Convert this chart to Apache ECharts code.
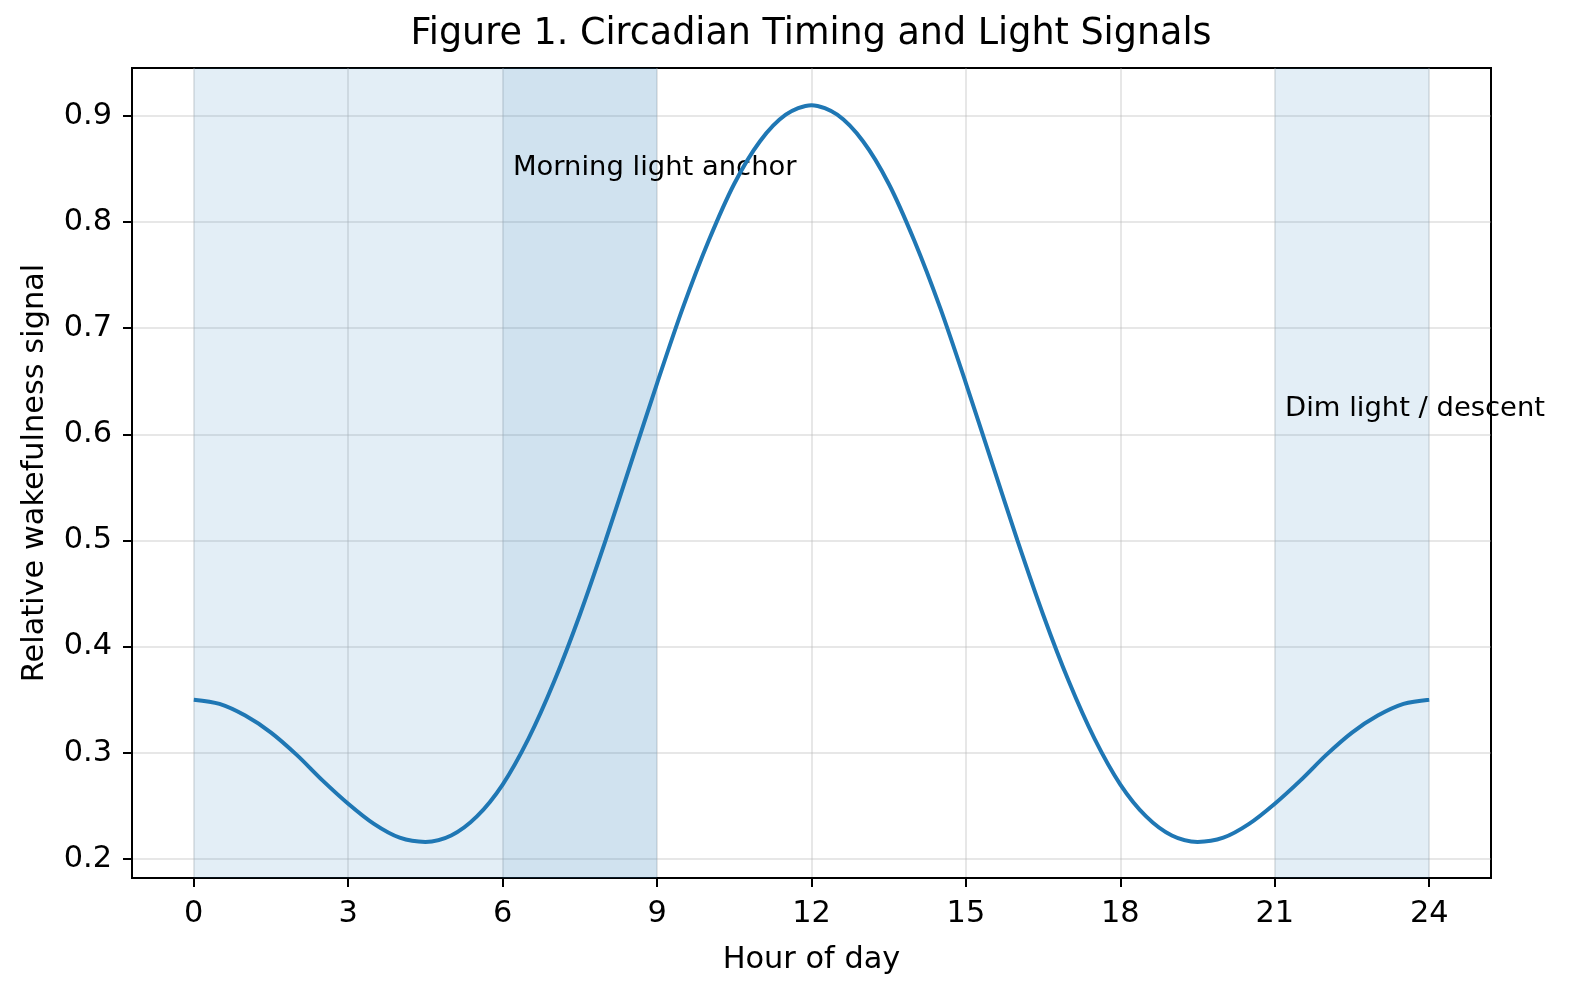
<html>
<head>
<meta charset="UTF-8">
<title>Figure 1. Circadian Timing and Light Signals</title>
<script src="https://cdn.jsdelivr.net/npm/echarts@6/dist/echarts.min.js"></script>
<style>
    body{ margin:0; background:#fff; }
    #main{ width:1574px; height:996px; }
</style>
</head>
<body>
<div id="main"></div>
<script>
// data
var hours = [0, 0.5, 1, 1.5, 2, 2.5, 3, 3.5, 4, 4.5, 5, 5.5, 6, 6.5, 7, 7.5, 8, 8.5,
    9, 9.5, 10, 10.5, 11, 11.5, 12, 12.5, 13, 13.5, 14, 14.5, 15, 15.5, 16, 16.5,
    17, 17.5, 18, 18.5, 19, 19.5, 20, 20.5, 21, 21.5, 22, 22.5, 23, 23.5, 24];
var wakefulness = [0.350, 0.346, 0.335, 0.319, 0.298, 0.274, 0.252, 0.233, 0.220, 0.216,
    0.222, 0.240, 0.270, 0.313, 0.367, 0.430, 0.500, 0.574, 0.648, 0.719, 0.782, 0.836,
    0.876, 0.901, 0.910, 0.901, 0.876, 0.836, 0.782, 0.719, 0.648, 0.574, 0.500, 0.430,
    0.367, 0.313, 0.270, 0.240, 0.222, 0.216, 0.220, 0.233, 0.252, 0.274, 0.298, 0.319,
    0.335, 0.346, 0.350];
var bandStart = [0, 6, 21];
var bandEnd = [6, 9, 24];
var noteText = ['Morning light anchor', 'Dim light / descent'];
var noteHour = [6.2, 21.2];
var noteValue = [0.845, 0.618];
var xTicks = [0, 3, 6, 9, 12, 15, 18, 21, 24];
var yTicks = [0.2, 0.3, 0.4, 0.5, 0.6, 0.7, 0.8, 0.9];

var font = 'DejaVu Sans';
var bandColors = ['rgba(31,119,180,0.125)', 'rgba(31,119,180,0.21)', 'rgba(31,119,180,0.125)'];

var lineData = hours.map(function (h, i) { return [h, wakefulness[i]]; });
var noteData = noteText.map(function (t, i) { return { value: [noteHour[i], noteValue[i]], name: t }; });
var bands = bandStart.map(function (s, i) {
    return [{ xAxis: s, itemStyle: { color: bandColors[i] } }, { xAxis: bandEnd[i] }];
});

var myChart = echarts.init(document.getElementById('main'));

var option = {
    animation: false,
    title: {
        text: 'Figure 1. Circadian Timing and Light Signals',
        left: 811,
        top: 16,
        textAlign: 'center',
        padding: 0,
        textStyle: { fontFamily: font, fontSize: 36.5, fontWeight: 'normal', color: '#000' }
    },
    grid: {
        left: 132, right: 83, top: 68, bottom: 118,
        show: true, borderColor: '#000', borderWidth: 2, backgroundColor: 'transparent'
    },
    xAxis: {
        type: 'value',
        min: -1.2, max: 25.2,
        name: 'Hour of day',
        nameLocation: 'middle',
        nameGap: 67,
        nameTextStyle: { fontFamily: font, fontSize: 30.4, color: '#000' },
        axisLine: { show: true, onZero: false, lineStyle: { color: '#000', width: 2 } },
        axisTick: { show: true, inside: false, length: 9, customValues: xTicks, lineStyle: { color: '#000', width: 2 } },
        axisLabel: { customValues: xTicks, margin: 21, fontFamily: font, fontSize: 30.4, color: '#000' },
        splitLine: { show: true, lineStyle: { color: 'rgba(176,176,176,0.3)', width: 2 } }
    },
    yAxis: {
        type: 'value',
        min: 0.182, max: 0.945,
        name: 'Relative wakefulness signal',
        nameLocation: 'middle',
        nameGap: 82,
        nameTextStyle: { fontFamily: font, fontSize: 30.4, color: '#000' },
        axisLine: { show: true, onZero: false, lineStyle: { color: '#000', width: 2 } },
        axisTick: { show: true, inside: false, length: 9, customValues: yTicks, lineStyle: { color: '#000', width: 2 } },
        axisLabel: {
            customValues: yTicks, margin: 20, fontFamily: font, fontSize: 30.4, color: '#000',
            formatter: function (v) { return v.toFixed(1); }
        },
        splitLine: { show: true, lineStyle: { color: 'rgba(176,176,176,0.3)', width: 2 } }
    },
    series: [{
        // shaded windows + text notes
        type: 'scatter',
        z: 1,
        silent: true,
        symbolSize: 0,
        itemStyle: { opacity: 1 },
        data: noteData,
        label: {
            show: true,
            position: [0, 0],
            align: 'left',
            verticalAlign: 'bottom',
            offset: [0, 7],
            formatter: function (p) { return p.name; },
            fontFamily: font, fontSize: 27.4, color: '#000',
            opacity: 1,
            textBorderWidth: 0
        },
        markArea: { silent: true, data: bands }
    }, {
        type: 'line',
        z: 3,
        data: lineData,
        showSymbol: false,
        smooth: 0.3,
        lineStyle: { color: '#1f77b4', width: 4 }
    }]
};

myChart.setOption(option);
</script>
</body>
</html>
